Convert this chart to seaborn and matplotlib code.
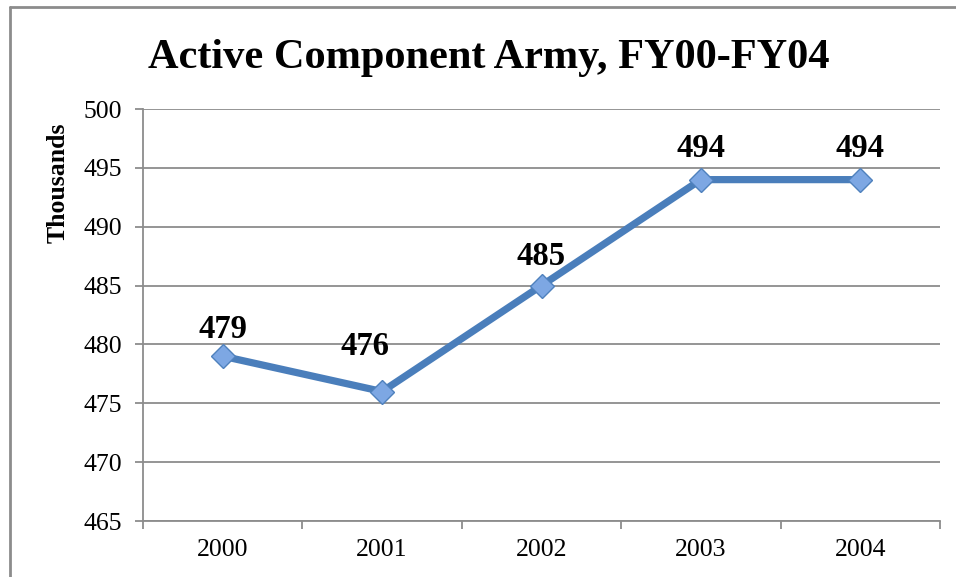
import matplotlib
matplotlib.use("Agg")
import matplotlib.pyplot as plt
import seaborn as sns
import pandas as pd
from matplotlib.lines import Line2D
from matplotlib.ticker import FixedLocator

# ---- data ----
years = ["2000", "2001", "2002", "2003", "2004"]
strength = [479, 476, 485, 494, 494]
y_ticks = [465, 470, 475, 480, 485, 490, 495, 500]
title = "Active Component Army, FY00-FY04"
ylabel = "Thousands"

# label offsets in points (dx, dy) for the value labels
label_offsets = [(0, 13), (-12, 26), (0, 15), (0, 16), (0, 16)]

sns.set_style("white")
plt.rcParams["font.family"] = ["Liberation Serif", "DejaVu Serif"]
plt.rcParams["text.color"] = "black"

df = pd.DataFrame({"year": years, "value": strength})

fig = plt.figure(figsize=(9.56, 5.77), dpi=100)
ax = fig.add_axes([143 / 956, 1 - 521 / 577, (940 - 143) / 956, (521 - 109) / 577])

line_col = "#4A7EBB"
sns.lineplot(data=df, x="year", y="value", ax=ax, color=line_col, linewidth=5.2,
             marker="D", markersize=12.5, markerfacecolor="#7DA7E3",
             markeredgecolor="#4F81BD", markeredgewidth=1.0, zorder=5)

ax.set_xlim(-0.5, len(years) - 0.5)
ax.set_ylim(y_ticks[0], y_ticks[-1])
ax.set_yticks(y_ticks)
ax.yaxis.grid(True, color="#8C8C8C", linewidth=1.3)
ax.xaxis.grid(False)
ax.set_axisbelow(True)

for s in ["top", "right"]:
    ax.spines[s].set_visible(False)
for s in ["left", "bottom"]:
    ax.spines[s].set_color("#8C8C8C")
    ax.spines[s].set_linewidth(1.3)

ax.tick_params(axis="y", which="major", length=6, width=1.3, color="#8C8C8C",
               labelcolor="black", labelsize=18.5, pad=9, left=True)
ax.tick_params(axis="x", which="major", length=0, labelsize=18.5, pad=13,
               labelcolor="black")
ax.xaxis.set_minor_locator(FixedLocator([i - 0.5 for i in range(len(years) + 1)]))
ax.tick_params(axis="x", which="minor", length=6, width=1.3, color="#8C8C8C", bottom=True)

ax.set_xlabel("")
ax.set_ylabel("")

for i, (v, off) in enumerate(zip(strength, label_offsets)):
    ax.annotate(str(v), (i, v), xytext=off, textcoords="offset points",
                ha="center", va="baseline", fontsize=23.5, fontweight="bold",
                color="black", zorder=6)

fig.text(58 / 956, 1 - 183 / 577, ylabel, rotation=90, ha="center", va="center",
         fontsize=18.5, fontweight="bold", color="black")
fig.text(488.5 / 956, 1 - 68 / 577, title, ha="center", va="baseline",
         fontsize=30.5, fontweight="bold", color="black")

# outer chart frame (partially visible)
fx = 9.5 / 956
fy = 1 - 7 / 577
fig.add_artist(Line2D([fx, fx], [-0.01, fy], transform=fig.transFigure,
                      color="#8C8C8C", linewidth=2))
fig.add_artist(Line2D([fx, 1.01], [fy, fy], transform=fig.transFigure,
                      color="#8C8C8C", linewidth=2))

fig.savefig("out.png", dpi=100)
